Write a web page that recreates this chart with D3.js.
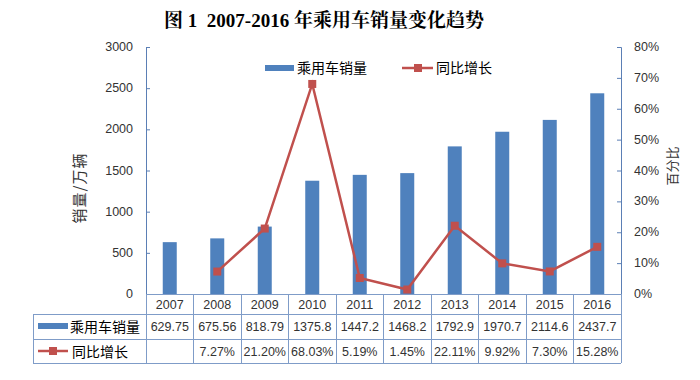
<!DOCTYPE html>
<html><head><meta charset="utf-8">
<script src="https://cdn.jsdelivr.net/npm/d3@7"></script>
<style>body{margin:0;background:#fff}svg{display:block}</style>
</head><body>
<script>
const years = ["2007","2008","2009","2010","2011","2012","2013","2014","2015","2016"];
const sales = [629.75,675.56,818.79,1375.8,1447.2,1468.2,1792.9,1970.7,2114.6,2437.7];
const salesLabels = ["629.75","675.56","818.79","1375.8","1447.2","1468.2","1792.9","1970.7","2114.6","2437.7"];
const growth = [null,7.27,21.20,68.03,5.19,1.45,22.11,9.92,7.30,15.28];
const growthLabels = ["","7.27%","21.20%","68.03%","5.19%","1.45%","22.11%","9.92%","7.30%","15.28%"];
const leftTicks = [0,500,1000,1500,2000,2500,3000];
const rightTicks = [0,10,20,30,40,50,60,70,80];
const seriesNames = ["乘用车销量","同比增长"];
const title = "图 1  2007-2016 年乘用车销量变化趋势";

const W=700,H=380;
const blue="#4F81BD", red="#C0504D", lineCol="#7F9CC8", axisCol="#5B7FB5";
const font="'Noto Sans CJK SC','DejaVu Sans',sans-serif";
const numFont="'Liberation Sans',Arial,sans-serif";
const svg=d3.select("body").append("svg").attr("width",W).attr("height",H);

const pl=146, pr=621, pt=47, pb=294;
const x=d3.scaleBand().domain(years).range([pl,pr]);
const yL=d3.scaleLinear().domain([0,3000]).range([pb,pt]);
const yR=d3.scaleLinear().domain([0,80]).range([pb,pt]);

svg.append("text").attr("x",324).attr("y",27).attr("text-anchor","middle")
 .attr("font-family","'Liberation Serif','Noto Serif CJK SC','Noto Sans CJK SC',serif").attr("font-weight","bold")
 .attr("font-size",19).attr("fill","#000").style("white-space","pre").text(title);

// bars
const bw=14;
svg.selectAll("rect.bar").data(years).enter().append("rect")
 .attr("x",d=>x(d)+x.bandwidth()/2-bw/2).attr("width",bw)
 .attr("y",(d,i)=>yL(sales[i])).attr("height",(d,i)=>pb-yL(sales[i]))
 .attr("fill",blue);

// axes
const gL=svg.append("g").attr("transform",`translate(${pl},0)`)
 .call(d3.axisRight(yL).tickValues(leftTicks).tickSize(4).tickFormat(""));
gL.select(".domain").attr("stroke",axisCol);
gL.selectAll(".tick line").attr("stroke",axisCol);
svg.selectAll("text.ly").data(leftTicks).enter().append("text")
 .attr("x",133).attr("y",d=>yL(d)+4).attr("text-anchor","end")
 .attr("font-family",numFont).attr("font-size",12.5).attr("fill","#333").text(d=>d);

const gR=svg.append("g").attr("transform",`translate(${pr},0)`)
 .call(d3.axisLeft(yR).tickValues(rightTicks).tickSize(4).tickFormat(""));
gR.select(".domain").attr("stroke",axisCol);
gR.selectAll(".tick line").attr("stroke",axisCol);
svg.selectAll("text.ry").data(rightTicks).enter().append("text")
 .attr("x",634).attr("y",d=>yR(d)+4).attr("text-anchor","start")
 .attr("font-family",numFont).attr("font-size",12.5).attr("fill","#333").text(d=>d+"%");

svg.append("text").attr("transform","translate(85,188) rotate(-90)").attr("text-anchor","middle")
 .attr("font-family",font).attr("font-size",15).attr("letter-spacing",1).attr("fill","#333").text("销量/万辆");
svg.append("text").attr("transform","translate(677,166) rotate(-90)").attr("text-anchor","middle")
 .attr("font-family",font).attr("font-size",13).attr("fill","#333").text("百分比");

// line
const pts=years.map((d,i)=>({d,v:growth[i]})).filter(p=>p.v!==null);
svg.append("path").datum(pts).attr("fill","none").attr("stroke",red).attr("stroke-width",2.5)
 .attr("d",d3.line().x(p=>x(p.d)+x.bandwidth()/2).y(p=>yR(p.v)));
svg.selectAll("rect.mk").data(pts).enter().append("rect")
 .attr("x",p=>x(p.d)+x.bandwidth()/2-4).attr("y",p=>yR(p.v)-4).attr("width",8).attr("height",8).attr("fill",red);

// legend
svg.append("rect").attr("x",265).attr("y",65).attr("width",29).attr("height",6).attr("fill",blue);
svg.append("text").attr("x",297).attr("y",73).attr("font-family",font).attr("font-size",14).attr("fill","#000").text(seriesNames[0]);
svg.append("line").attr("x1",402).attr("x2",433).attr("y1",68).attr("y2",68).attr("stroke",red).attr("stroke-width",2.5);
svg.append("rect").attr("x",414).attr("y",64).attr("width",8).attr("height",8).attr("fill",red);
svg.append("text").attr("x",436).attr("y",73).attr("font-family",font).attr("font-size",14).attr("fill","#000").text(seriesNames[1]);

// table
const r0=294,r1=314,r2=339,r3=363,tl=33;
const tg=svg.append("g").attr("stroke",lineCol).attr("stroke-width",1).attr("shape-rendering","crispEdges");
tg.append("line").attr("x1",pl).attr("x2",pr).attr("y1",r0).attr("y2",r0);
[r1,r2,r3].forEach(y=>tg.append("line").attr("x1",tl).attr("x2",pr).attr("y1",y).attr("y2",y));
tg.append("line").attr("x1",tl).attr("x2",tl).attr("y1",r1).attr("y2",r3);
years.concat(["end"]).forEach((d,i)=>{
  const xx = i<years.length? x(d): pr;
  tg.append("line").attr("x1",xx).attr("x2",xx).attr("y1",r0).attr("y2",r3);
});
const cx=d=>x(d)+x.bandwidth()/2;
svg.selectAll("text.yr").data(years).enter().append("text")
 .attr("x",cx).attr("y",r1-5).attr("text-anchor","middle").attr("font-family",numFont).attr("font-size",12.5).attr("fill","#333").text(d=>d);
svg.selectAll("text.sv").data(years).enter().append("text")
 .attr("x",cx).attr("y",r2-8).attr("text-anchor","middle").attr("font-family",numFont).attr("font-size",12.5).attr("fill","#333").text((d,i)=>salesLabels[i]);
svg.selectAll("text.gv").data(years).enter().append("text")
 .attr("x",cx).attr("y",r3-7).attr("text-anchor","middle").attr("font-family",numFont).attr("font-size",12.5).attr("fill","#333").text((d,i)=>growthLabels[i]);
svg.append("rect").attr("x",38).attr("y",323).attr("width",30).attr("height",6).attr("fill",blue);
svg.append("text").attr("x",70).attr("y",332).attr("font-family",font).attr("font-size",14).attr("fill","#000").text(seriesNames[0]);
svg.append("line").attr("x1",38).attr("x2",68).attr("y1",351).attr("y2",351).attr("stroke",red).attr("stroke-width",2.5);
svg.append("rect").attr("x",49).attr("y",347).attr("width",8).attr("height",8).attr("fill",red);
svg.append("text").attr("x",72).attr("y",357).attr("font-family",font).attr("font-size",14).attr("fill","#000").text(seriesNames[1]);
</script>
</body></html>
